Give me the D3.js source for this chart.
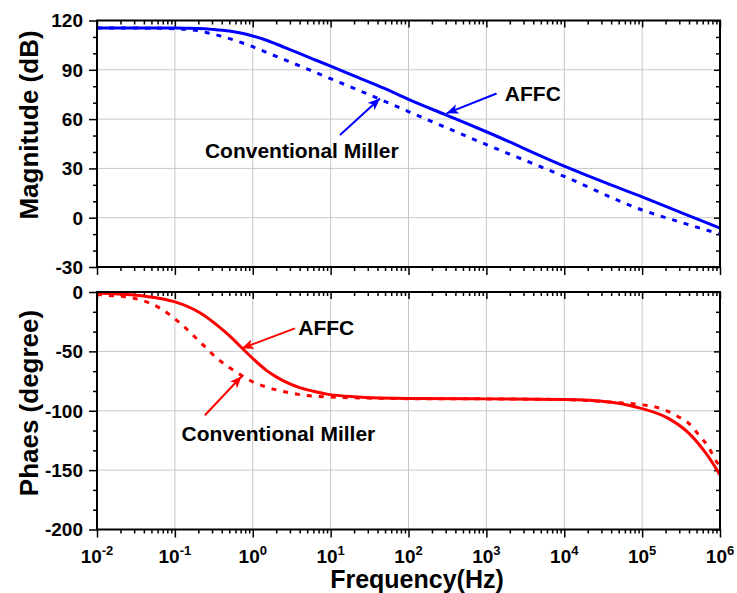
<!DOCTYPE html>
<html><head><meta charset="utf-8">
<script src="https://cdn.jsdelivr.net/npm/d3@7"></script>
<style>
body{margin:0;background:#fff}
svg{display:block}
text{font-family:"Liberation Sans",Arial,Helvetica,sans-serif;font-weight:bold;fill:#000}
</style>
</head><body>
<svg id="c" width="737" height="593"></svg>
<script>
// ---------- data ----------
const magFreqAFFC = [0.01,0.03,0.1,0.2,0.3,0.5,0.7,1,1.5,2,3,5,7,10,20,50,100,300,1000,1e4,3e4,1e5,3e5,1e6];
const magAFFC     = [115.5,115.5,115.4,115.1,114.6,113.6,112.4,110.6,108,105.7,102.3,98,95.2,92.2,86.3,78.5,72,62.6,52.3,31.4,22.2,12.7,3.6,-6.3];
const magFreqMiller = [0.01,0.05,0.1,0.16,0.26,0.4,0.6,0.9,1.3,2,2.9,4.3,6.3,9.3,30,100,1000,1e4,1e5,3e5,1e6];
const magMiller     = [115.5,115.3,115,114.4,112.6,110.4,107.8,104.9,101.8,98.2,95.1,91.8,88.5,85.2,75.2,64.6,44.5,25.1,4.7,-2.5,-10];

const phFreqAFFC = [0.01,0.03,0.065,0.1,0.21,0.38,0.5,0.76,1,1.5,2,3,4,6,9,20,100,1000,1e4,3.76e4,8.3e4,1e5,2.2e5,4e5,6.8e5,1e6];
const phAFFC     = [-1,-2.5,-5.5,-8.3,-17.5,-30,-36.7,-48.4,-56,-66,-71.5,-77.4,-80.5,-83.6,-86,-88.2,-89.7,-90,-90.6,-92.6,-96.8,-98.2,-106.6,-119,-137,-154];
const phFreqMiller = [0.01,0.012,0.03,0.065,0.12,0.21,0.35,0.69,1,1.5,3.3,8.9,100,1000,1e4,3.76e4,1e5,1.35e5,2e5,2.8e5,4e5,5.4e5,7.1e5,9.1e5,1e6];
const phMiller     = [-2,-2.5,-5.3,-13.8,-27,-42,-56,-69.5,-75.7,-80,-85.5,-88.3,-89.8,-90,-90.6,-92.6,-95,-96.2,-99.6,-104.4,-110.8,-120.7,-130.5,-143.2,-146];

const xDecades = [-2,-1,0,1,2,3,4,5,6];
const magTicks = [-30,0,30,60,90,120];
const phTicks  = [-200,-150,-100,-50,0];

const labels = {x:"Frequency(Hz)", mag:"Magnitude (dB)", ph:"Phaes (degree)", a:"AFFC", m:"Conventional Miller"};
// annotation anchors in data units: [fromF, fromV, toF, toV], text [f, v]
const magArrowA = [1352,75.6,308,63.5],  magTextA = [1726,71];
const magArrowM = [13.2,50.3,43,72.6],   magTextM = [0.243,36.3];
const phArrowA  = [3.48,-30.6,0.72,-47.5], phTextA = [3.84,-36.3];
const phArrowM  = [0.243,-103.8,0.72,-70.9], phTextM = [0.122,-125.7];

// ---------- layout ----------
const svg = d3.select("#c");
const L = 97, R = 720;
const x = d3.scaleLog().domain([1e-2,1e6]).range([L,R]);
const yMag = d3.scaleLinear().domain([-30,120]).range([267,20.5]);
const yPh  = d3.scaleLinear().domain([-200,0]).range([529.5,292]);

const BLUE = "#0000ff", RED = "#ff0000";

const defs = svg.append("defs");
[["ab",BLUE],["ar",RED]].forEach(([id,c])=>{
  defs.append("marker").attr("id",id).attr("viewBox","0 0 12 10").attr("refX",12).attr("refY",5)
    .attr("markerWidth",12).attr("markerHeight",10).attr("markerUnits","userSpaceOnUse").attr("orient","auto")
    .append("path").attr("d","M0,0L12,5L0,10L3,5Z").attr("fill",c);
});

const majorF = xDecades.map(d=>Math.pow(10,d));
const minorF = [];
for (let d=-2; d<6; d++) for (let k=2;k<10;k++) minorF.push(k*Math.pow(10,d));

function panel(y, yTicks, step, fA, vA, fM, vM, color, arrA, txtA, arrM, txtM, marker) {
  const [y0,y1] = y.range(); // bottom, top
  const g = svg.append("g");
  // grid
  g.selectAll(".gx").data(majorF.slice(1,-1)).join("line")
    .attr("x1",d=>x(d)).attr("x2",d=>x(d)).attr("y1",y1).attr("y2",y0)
    .attr("stroke","#c8c8c8").attr("stroke-width",1);
  g.selectAll(".gy").data(yTicks.slice(1,-1)).join("line")
    .attr("x1",L).attr("x2",R).attr("y1",d=>y(d)).attr("y2",d=>y(d))
    .attr("stroke","#c8c8c8").attr("stroke-width",1);
  const minorY = [];
  for (let i=0; i<yTicks.length-1; i++) for (let k=1;k<3;k++) minorY.push(yTicks[i]+k*step/3);
  const ax = (axis, tr) => {
    const a = g.append("g").attr("transform",tr).call(axis);
    a.select(".domain").remove();
    a.selectAll("line").attr("stroke","#000").attr("stroke-width",1.5);
    a.selectAll("text").remove();
    return a;
  };
  ax(d3.axisBottom(x).tickValues(majorF).tickSize(8).tickFormat(""), `translate(0,${y0})`);
  ax(d3.axisBottom(x).tickValues(minorF).tickSize(4).tickFormat(""), `translate(0,${y0})`);
  ax(d3.axisBottom(x).tickValues(majorF).tickSize(7).tickFormat(""), `translate(0,${y1})`);
  ax(d3.axisBottom(x).tickValues(minorF).tickSize(4).tickFormat(""), `translate(0,${y1})`);
  ax(d3.axisLeft(y).tickValues(yTicks).tickSize(8).tickFormat(""), `translate(${L},0)`);
  ax(d3.axisLeft(y).tickValues(minorY).tickSize(4).tickFormat(""), `translate(${L},0)`);
  ax(d3.axisRight(y).tickValues(yTicks).tickSize(-6).tickFormat(""), `translate(${R},0)`);
  ax(d3.axisRight(y).tickValues(minorY).tickSize(-4).tickFormat(""), `translate(${R},0)`);
  g.selectAll(".yl").data(yTicks).join("text")
    .attr("x",L-14).attr("y",d=>y(d)).attr("dy","0.36em").attr("text-anchor","end")
    .attr("font-size",19).text(d=>d);
  const clip = "cl"+color.slice(1);
  defs.append("clipPath").attr("id",clip).append("rect").attr("x",L).attr("y",y1).attr("width",R-L).attr("height",y0-y1);
  const line = d3.line().x(d=>x(d[0])).y(d=>y(d[1])).curve(d3.curveMonotoneX);
  g.append("path").datum(fM.map((f,i)=>[f,vM[i]])).attr("d",line)
    .attr("fill","none").attr("stroke",color).attr("stroke-width",3).attr("stroke-dasharray","5,7")
    .attr("clip-path",`url(#${clip})`);
  g.append("path").datum(fA.map((f,i)=>[f,vA[i]])).attr("d",line)
    .attr("fill","none").attr("stroke",color).attr("stroke-width",3)
    .attr("clip-path",`url(#${clip})`);
  g.append("rect").attr("x",L).attr("y",y1).attr("width",R-L).attr("height",y0-y1)
    .attr("fill","none").attr("stroke","#000").attr("stroke-width",2);
  [[arrA,txtA,labels.a],[arrM,txtM,labels.m]].forEach(([a,t,s])=>{
    g.append("line").attr("x1",x(a[0])).attr("y1",y(a[1])).attr("x2",x(a[2])).attr("y2",y(a[3]))
      .attr("stroke",color).attr("stroke-width",2).attr("marker-end",`url(#${marker})`);
    g.append("text").attr("x",x(t[0])).attr("y",y(t[1])).attr("font-size",21).text(s);
  });
}

panel(yMag, magTicks, 30, magFreqAFFC, magAFFC, magFreqMiller, magMiller, BLUE, magArrowA, magTextA, magArrowM, magTextM, "ab");
panel(yPh, phTicks, 50, phFreqAFFC, phAFFC, phFreqMiller, phMiller, RED, phArrowA, phTextA, phArrowM, phTextM, "ar");

const xl = svg.append("g");
xDecades.forEach(d=>{
  const t = xl.append("text").attr("x",x(Math.pow(10,d))).attr("y",563).attr("text-anchor","middle").attr("font-size",19);
  t.append("tspan").text("10");
  t.append("tspan").attr("dy",-8).attr("font-size",13).text(d);
});
svg.append("text").attr("x",417).attr("y",588).attr("text-anchor","middle").attr("font-size",25).text(labels.x);
svg.append("text").attr("transform","translate(38,125) rotate(-90)").attr("text-anchor","middle").attr("font-size",26).text(labels.mag);
svg.append("text").attr("transform","translate(38,403) rotate(-90)").attr("text-anchor","middle").attr("font-size",26).text(labels.ph);
</script>
</body></html>
